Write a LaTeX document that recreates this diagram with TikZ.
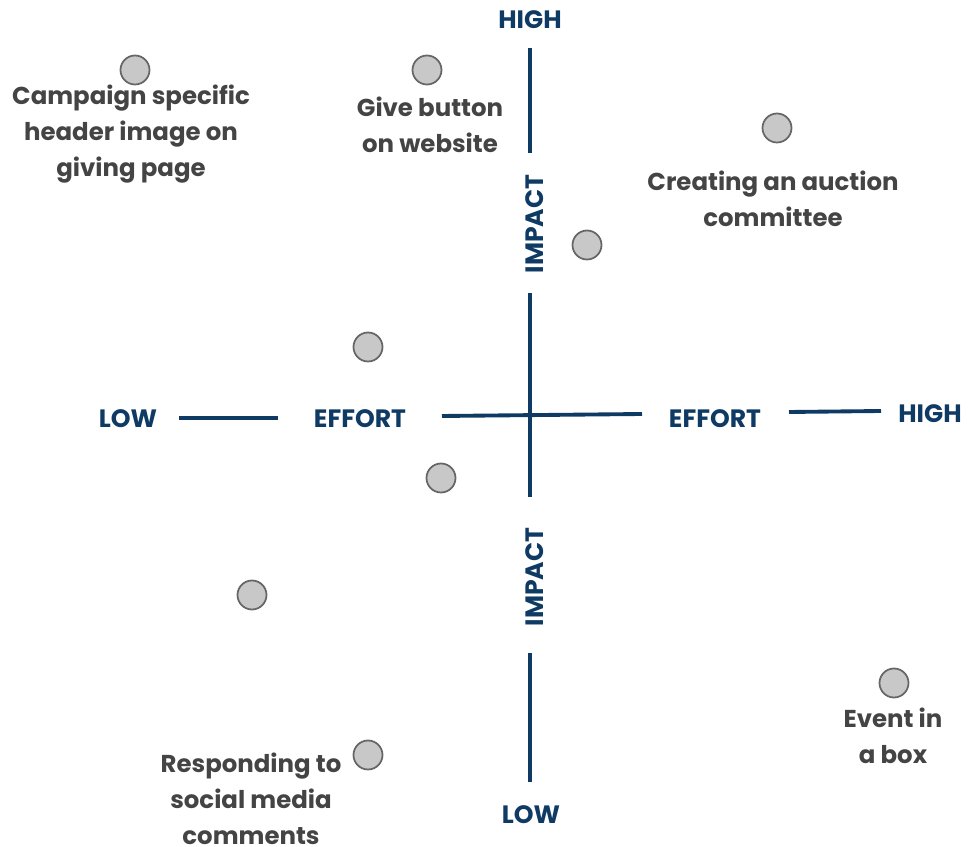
\documentclass[tikz,border=0pt]{standalone}
\usepackage{fontspec}
\setmainfont{Poppins}
\usepackage{xcolor}
\definecolor{axisblue}{HTML}{0E3A63}
\definecolor{idea}{HTML}{444444}
\definecolor{dotfill}{HTML}{C8C8C8}
\definecolor{dotline}{HTML}{666666}

\begin{document}
\begin{tikzpicture}[
    x=0.02cm, y=-0.02cm,
    axis/.style={line width=2.2pt, draw=axisblue},
    axislabel/.style={font=\fontsize{14.3}{16}\selectfont\bfseries, text=axisblue, inner sep=0pt},
    dot/.style={circle, draw=dotline, fill=dotfill, line width=1pt, minimum size=0.58cm, inner sep=0pt},
    idea/.style={align=center, font=\fontsize{13.9}{20.4}\selectfont\bfseries, text=idea, inner sep=0pt}
]
\useasboundingbox (0,0) rectangle (968,847);

% Axis labels
\node[axislabel] (ihigh) at (530,20) {HIGH};
\node[axislabel, rotate=90] (iup) at (535,224) {IMPACT};
\node[axislabel, rotate=90] (idown) at (535,577) {IMPACT};
\node[axislabel] (ilow) at (531,815) {LOW};
\node[axislabel] (elow) at (128,419) {LOW};
\node[axislabel] (eleft) at (360,419) {EFFORT};
\node[axislabel] (eright) at (715,419) {EFFORT};
\node[axislabel] (ehigh) at (930,414) {HIGH};

% Axis segments
\coordinate (v1) at (530,48);  \coordinate (v2) at (530,153);
\coordinate (v3) at (530,293); \coordinate (v4) at (530,497);
\coordinate (v5) at (530,653); \coordinate (v6) at (530,782);
\coordinate (h1) at (179,418); \coordinate (h2) at (278,418);
\coordinate (h3) at (442,416); \coordinate (h4) at (642,414);
\coordinate (h5) at (789,412); \coordinate (h6) at (881,411);
\draw[axis] (v1) -- (v2);
\draw[axis] (v3) -- (v4);
\draw[axis] (v5) -- (v6);
\draw[axis] (h1) -- (h2);
\draw[axis] (h3) -- (h4);
\draw[axis] (h5) -- (h6);

% Ideas
\node[dot] (d1) at (135,70) {};
\node[dot] (d2) at (427,70) {};
\node[dot] (d3) at (777,128) {};
\node[dot] (d4) at (587,245) {};
\node[dot] (d5) at (368,347) {};
\node[dot] (d6) at (441,478) {};
\node[dot] (d7) at (252,595) {};
\node[dot] (d8) at (894,683) {};
\node[dot] (d9) at (368,755) {};

\node[idea] (t1) at (131,134) {Campaign specific\\header image on\\giving page};
\node[idea] (t2) at (430,125) {Give button\\on website};
\node[idea] (t3) at (773,199) {Creating an auction\\committee};
\node[idea] (t8) at (893,736) {Event in\\a box};
\node[idea] (t9) at (251,799) {Responding to\\social media\\comments};

\end{tikzpicture}
\end{document}
